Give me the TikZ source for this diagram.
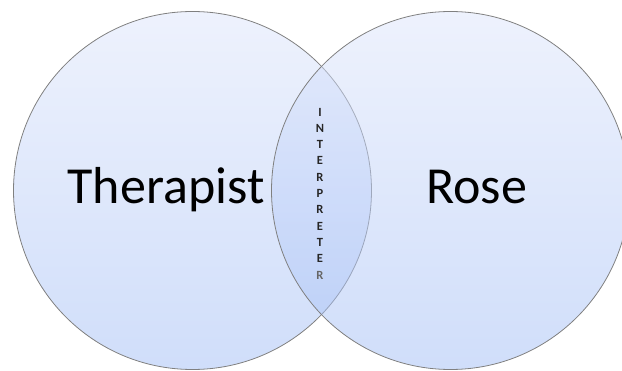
\documentclass[tikz,border=0pt]{standalone}
\usepackage{fontspec}
\setmainfont{Carlito}
\begin{document}
\begin{tikzpicture}[x=1pt,y=1pt,
  venn/.style={circle, minimum size=358pt, inner sep=0pt, outer sep=0pt,
    draw=black!50, line width=0.8pt, top color=vtop, bottom color=vbot, fill opacity=0.5, draw opacity=1},
  big/.style={font=\fontsize{52}{56}\selectfont, text=black, inner sep=0pt, anchor=base},
  small/.style={font=\fontsize{12.5}{16.3}\selectfont\bfseries, text=black!85, align=center, inner sep=0pt}]
\definecolor{vtop}{RGB}{221,229,251}
\definecolor{vbot}{RGB}{161,189,245}
\useasboundingbox (0,0) rectangle (622,370);
\node[venn] (L) at (192.5,179.5) {};
\node[venn] (R) at (450.5,179.5) {};
\node[big] (ther) at (166,166) {Therapist};
\node[big] (rose) at (476.5,166) {Rose};
\node[small] (interp) at (320,176.5) {I\\N\\T\\E\\R\\P\\R\\E\\T\\E\\{\color{black!60}R}};
\end{tikzpicture}
\end{document}
